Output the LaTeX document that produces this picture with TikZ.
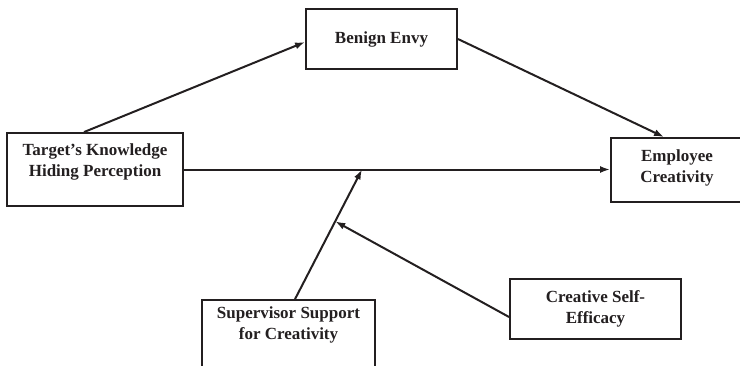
\documentclass[tikz,border=0pt]{standalone}
\usepackage{fontspec}
\setmainfont{Liberation Serif}
\usetikzlibrary{arrows.meta,calc}
\definecolor{ink}{HTML}{231F20}
\begin{document}
\begin{tikzpicture}[x=1pt,y=-1pt,
  box/.style={draw=ink,line width=1.9pt,rectangle,inner sep=0pt,align=center,
    text=ink,font=\fontsize{17}{21}\selectfont\bfseries},
  conn/.style={draw=ink,line width=2pt},
  arr/.style={conn,-{Latex[length=10pt,width=7pt]}}]
\useasboundingbox (0,0) rectangle (740,365);
\clip (0,0) rectangle (740,365);
\node[box,minimum width=176pt,minimum height=73pt] (tk) at (95,169.5)
  {Target’s Knowledge\\Hiding Perception\rule[-18pt]{0pt}{0pt}};
\node[box,minimum width=151pt,minimum height=60pt] (be) at (381.5,39) {Benign Envy};
\node[box,minimum width=132pt,minimum height=64pt] (ec) at (677,170)
  {Employee\\Creativity\rule[-7pt]{0pt}{0pt}};
\node[box,minimum width=171pt,minimum height=60pt] (cs) at (595.5,309)
  {Creative Self-\\Efficacy};
\node[box,minimum width=173pt,minimum height=90pt] (ss) at (288.5,345)
  {Supervisor Support\\for Creativity\rule[-44pt]{0pt}{0pt}};
\coordinate (s1) at ([xshift=94pt]ss.north west);
\coordinate (m1) at (362,169.5);
\coordinate (m2) at ($(s1)!0.6!(m1)$);
\draw[arr] ([xshift=78pt]tk.north west) -- ([yshift=-3pt]be.west);
\draw[arr] (be.east) -- ([xshift=54pt]ec.north west);
\draw[arr] (tk.east) -- (tk.east -| ec.west);
\draw[arr] (s1) -- (m1);
\draw[arr] ([yshift=-8pt]cs.west) -- (m2);
\end{tikzpicture}
\end{document}
